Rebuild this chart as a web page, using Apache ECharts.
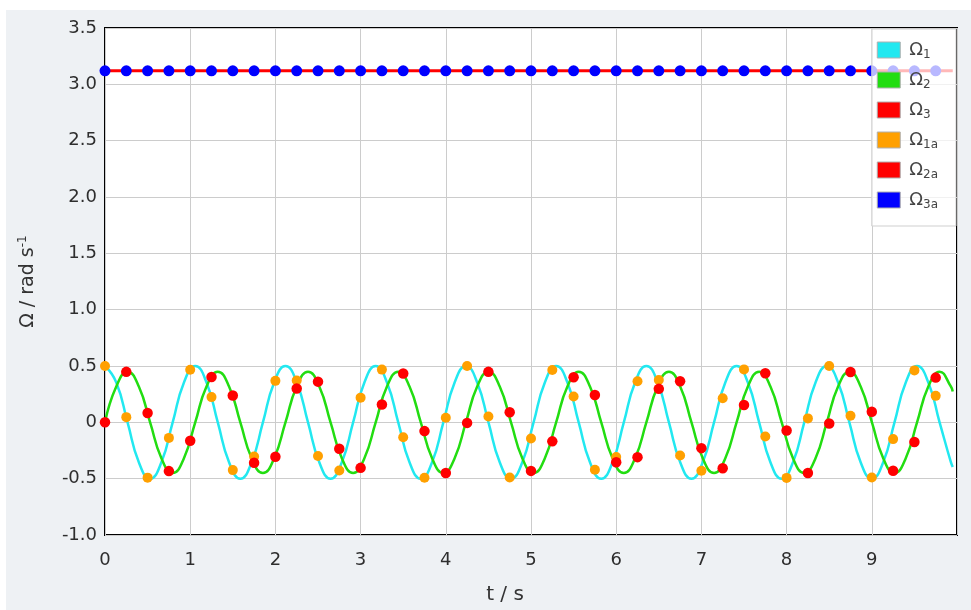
<!DOCTYPE html>
<html>
<head>
<meta charset="utf-8">
<script src="https://cdn.jsdelivr.net/npm/echarts@6/dist/echarts.min.js"></script>
<style>
  html, body { margin: 0; padding: 0; background: #ffffff; }
  #bg { position: absolute; left: 6px; top: 10px; width: 965px; height: 600px; background: #eef1f4; }
  #chart { position: absolute; left: 0; top: 0; width: 971px; height: 610px; }
</style>
</head>
<body>
<div id="bg"></div>
<div id="chart"></div>
<script>
// analytic curves
const tCurve = [0,0.1324,0.2648,0.3971,0.5295,0.6619,0.7943,0.9266,1.059,1.1914,1.3238,1.4561,1.5885,1.7209,1.8533,1.9856,2.118,2.2504,2.3828,2.5151,2.6475,2.7799,2.9123,3.0446,3.177,3.3094,3.4418,3.5741,3.7065,3.8389,3.9713,4.1036,4.236,4.3684,4.5008,4.6331,4.7655,4.8979,5.0303,5.1626,5.295,5.4274,5.5598,5.6921,5.8245,5.9569,6.0893,6.2216,6.354,6.4864,6.6188,6.7511,6.8835,7.0159,7.1483,7.2806,7.413,7.5454,7.6778,7.8101,7.9425,8.0749,8.2073,8.3396,8.472,8.6044,8.7368,8.8691,9.0015,9.1339,9.2663,9.3986,9.531,9.6634,9.7958,9.9281,9.95];
const omega1 = [0.5,0.354,0,-0.354,-0.5,-0.354,0,0.354, 0.5,0.354,0,-0.354,-0.5,-0.354,0,0.354, 0.5,0.354,0,-0.354,-0.5,-0.354,0,0.354, 0.5,0.354,0,-0.354,-0.5,-0.354,0,0.354, 0.5,0.354,0,-0.354,-0.5,-0.354,0,0.354, 0.5,0.354,0,-0.354,-0.5,-0.354,0,0.354, 0.5,0.354,0,-0.354,-0.5,-0.354,0,0.354, 0.5,0.354,0,-0.354,-0.5,-0.354,0,0.354, 0.5,0.354,0,-0.354,-0.5,-0.354,0,0.354, 0.5,0.354,0,-0.354,-0.396];
const omega2 = [0,0.318,0.45,0.318,0,-0.318,-0.45,-0.318, 0,0.318,0.45,0.318,0,-0.318,-0.45,-0.318, 0,0.318,0.45,0.318,0,-0.318,-0.45,-0.318, 0,0.318,0.45,0.318,0,-0.318,-0.45,-0.318, 0,0.318,0.45,0.318,0,-0.318,-0.45,-0.318, 0,0.318,0.45,0.318,0,-0.318,-0.45,-0.318, 0,0.318,0.45,0.318,0,-0.318,-0.45,-0.318, 0,0.318,0.45,0.318,0,-0.318,-0.45,-0.318, 0,0.318,0.45,0.318,0,-0.318,-0.45,-0.318, 0,0.318,0.45,0.318,0.274];
const tOmega3 = [0, 9.95];
const omega3 = [3.12, 3.12];

// sampled points
const tDots = [0,0.25,0.5,0.75,1,1.25,1.5,1.75,2,2.25,2.5,2.75,3,3.25,3.5,3.75,4,4.25,4.5,4.75,5,5.25,5.5,5.75,6,6.25,6.5,6.75,7,7.25,7.5,7.75,8,8.25,8.5,8.75,9,9.25,9.5,9.75];
const omega1a = [0.5,0.046,-0.491,-0.138,0.466,0.224,-0.424,-0.303,0.368,0.372,-0.299,-0.427,0.219,0.468,-0.132,-0.492,0.041,0.5,0.052,-0.49,-0.144,0.464,0.23,-0.421,-0.308,0.364,0.376,-0.294,-0.43,0.214,0.47,-0.126,-0.493,0.035,0.5,0.058,-0.489,-0.149,0.461,0.235];
const omega2a = [0,0.448,0.083,-0.433,-0.164,0.402,0.238,-0.358,-0.305,0.301,0.361,-0.234,-0.404,0.159,0.434,-0.078,-0.449,-0.005,0.448,0.089,-0.431,-0.169,0.4,0.243,-0.355,-0.309,0.297,0.364,-0.229,-0.407,0.154,0.435,-0.073,-0.449,-0.011,0.447,0.094,-0.429,-0.174,0.397];
const omega3a = [3.12,3.12,3.12,3.12,3.12,3.12,3.12,3.12,3.12,3.12,3.12,3.12,3.12,3.12,3.12,3.12,3.12,3.12,3.12,3.12,3.12,3.12,3.12,3.12,3.12,3.12,3.12,3.12,3.12,3.12,3.12,3.12,3.12,3.12,3.12,3.12,3.12,3.12,3.12,3.12];

const seriesNames = ['Ω1', 'Ω2', 'Ω3', 'Ω1a', 'Ω2a', 'Ω3a'];
const colors = ['#22e8f0', '#22dd11', '#ff0000', '#ffa000', '#ff0000', '#0000ff'];

const zip = (xs, ys) => xs.map((x, i) => [x, ys[i]]);
const FONT = 'DejaVu Sans';

const chart = echarts.init(document.getElementById('chart'), null, { renderer: 'canvas' });
chart.setOption({
  backgroundColor: 'transparent',
  animation: false,
  textStyle: { fontFamily: FONT },
  grid: {
    left: 105, right: 14, top: 28, bottom: 68,
    show: true, backgroundColor: '#ffffff', borderColor: '#000000', borderWidth: 2
  },
  xAxis: {
    type: 'value', min: 0, max: 10, interval: 1,
    name: 't / s', nameLocation: 'middle', nameGap: 50,
    nameTextStyle: { fontSize: 20, color: '#333', fontFamily: FONT, padding: [0, 52, 0, 0] },
    axisLine: { show: false }, axisTick: { show: false },
    axisLabel: { fontSize: 18, color: '#2e2e2e', margin: 16, showMaxLabel: false, fontFamily: FONT },
    splitLine: { show: true, lineStyle: { color: '#cccccc', width: 1 } }
  },
  yAxis: {
    type: 'value', min: -1, max: 3.5, interval: 0.5,
    name: '{a|Ω / rad s}{b|-1}', nameLocation: 'middle', nameGap: 66, nameRotate: 90,
    nameTextStyle: {
      fontFamily: FONT, color: '#333',
      rich: {
        a: { fontSize: 19, color: '#333', fontFamily: FONT, lineHeight: 22 },
        b: { fontSize: 12, color: '#333', fontFamily: FONT, lineHeight: 12, verticalAlign: 'top' }
      }
    },
    axisLine: { show: false }, axisTick: { show: false },
    axisLabel: {
      fontSize: 18, color: '#2e2e2e', margin: 8, fontFamily: FONT,
      formatter: v => (v === 0 ? '0' : v.toFixed(1))
    },
    splitLine: { show: true, lineStyle: { color: '#cccccc', width: 1 } }
  },
  legend: {
    orient: 'vertical', right: 15, top: 29,
    data: seriesNames,
    icon: 'rect', itemWidth: 23, itemHeight: 16, itemGap: 10,
    padding: [12, 18, 15, 5],
    backgroundColor: 'rgba(255,255,255,0.72)', borderColor: '#cfcfcf', borderWidth: 1,
    itemStyle: { borderColor: '#b0b0b0', borderWidth: 1 },
    formatter: n => '{a|Ω}{b|' + n.slice(1) + '}',
    textStyle: {
      padding: [0, 0, 0, 4],
      rich: {
        a: { fontSize: 18, color: '#444', fontFamily: FONT, lineHeight: 22 },
        b: { fontSize: 12, color: '#444', fontFamily: FONT, lineHeight: 12, verticalAlign: 'bottom' }
      }
    }
  },
  series: [
    { name: seriesNames[0], type: 'line', data: zip(tCurve, omega1), smooth: true, showSymbol: false, symbol: 'none',
      itemStyle: { color: colors[0] }, lineStyle: { color: colors[0], width: 2.5 }, z: 2 },
    { name: seriesNames[1], type: 'line', data: zip(tCurve, omega2), smooth: true, showSymbol: false, symbol: 'none',
      itemStyle: { color: colors[1] }, lineStyle: { color: colors[1], width: 2.5 }, z: 2 },
    { name: seriesNames[2], type: 'line', data: zip(tOmega3, omega3), showSymbol: false, symbol: 'none',
      itemStyle: { color: colors[2] }, lineStyle: { color: colors[2], width: 3 }, z: 2 },
    { name: seriesNames[3], type: 'scatter', data: zip(tDots, omega1a), symbolSize: 10,
      itemStyle: { color: colors[3], opacity: 1 }, z: 3 },
    { name: seriesNames[4], type: 'scatter', data: zip(tDots, omega2a), symbolSize: 10.5,
      itemStyle: { color: colors[4], opacity: 1 }, z: 3 },
    { name: seriesNames[5], type: 'scatter', data: zip(tDots, omega3a), symbolSize: 11,
      itemStyle: { color: colors[5], opacity: 1 }, z: 3 }
  ]
});
</script>
</body>
</html>
